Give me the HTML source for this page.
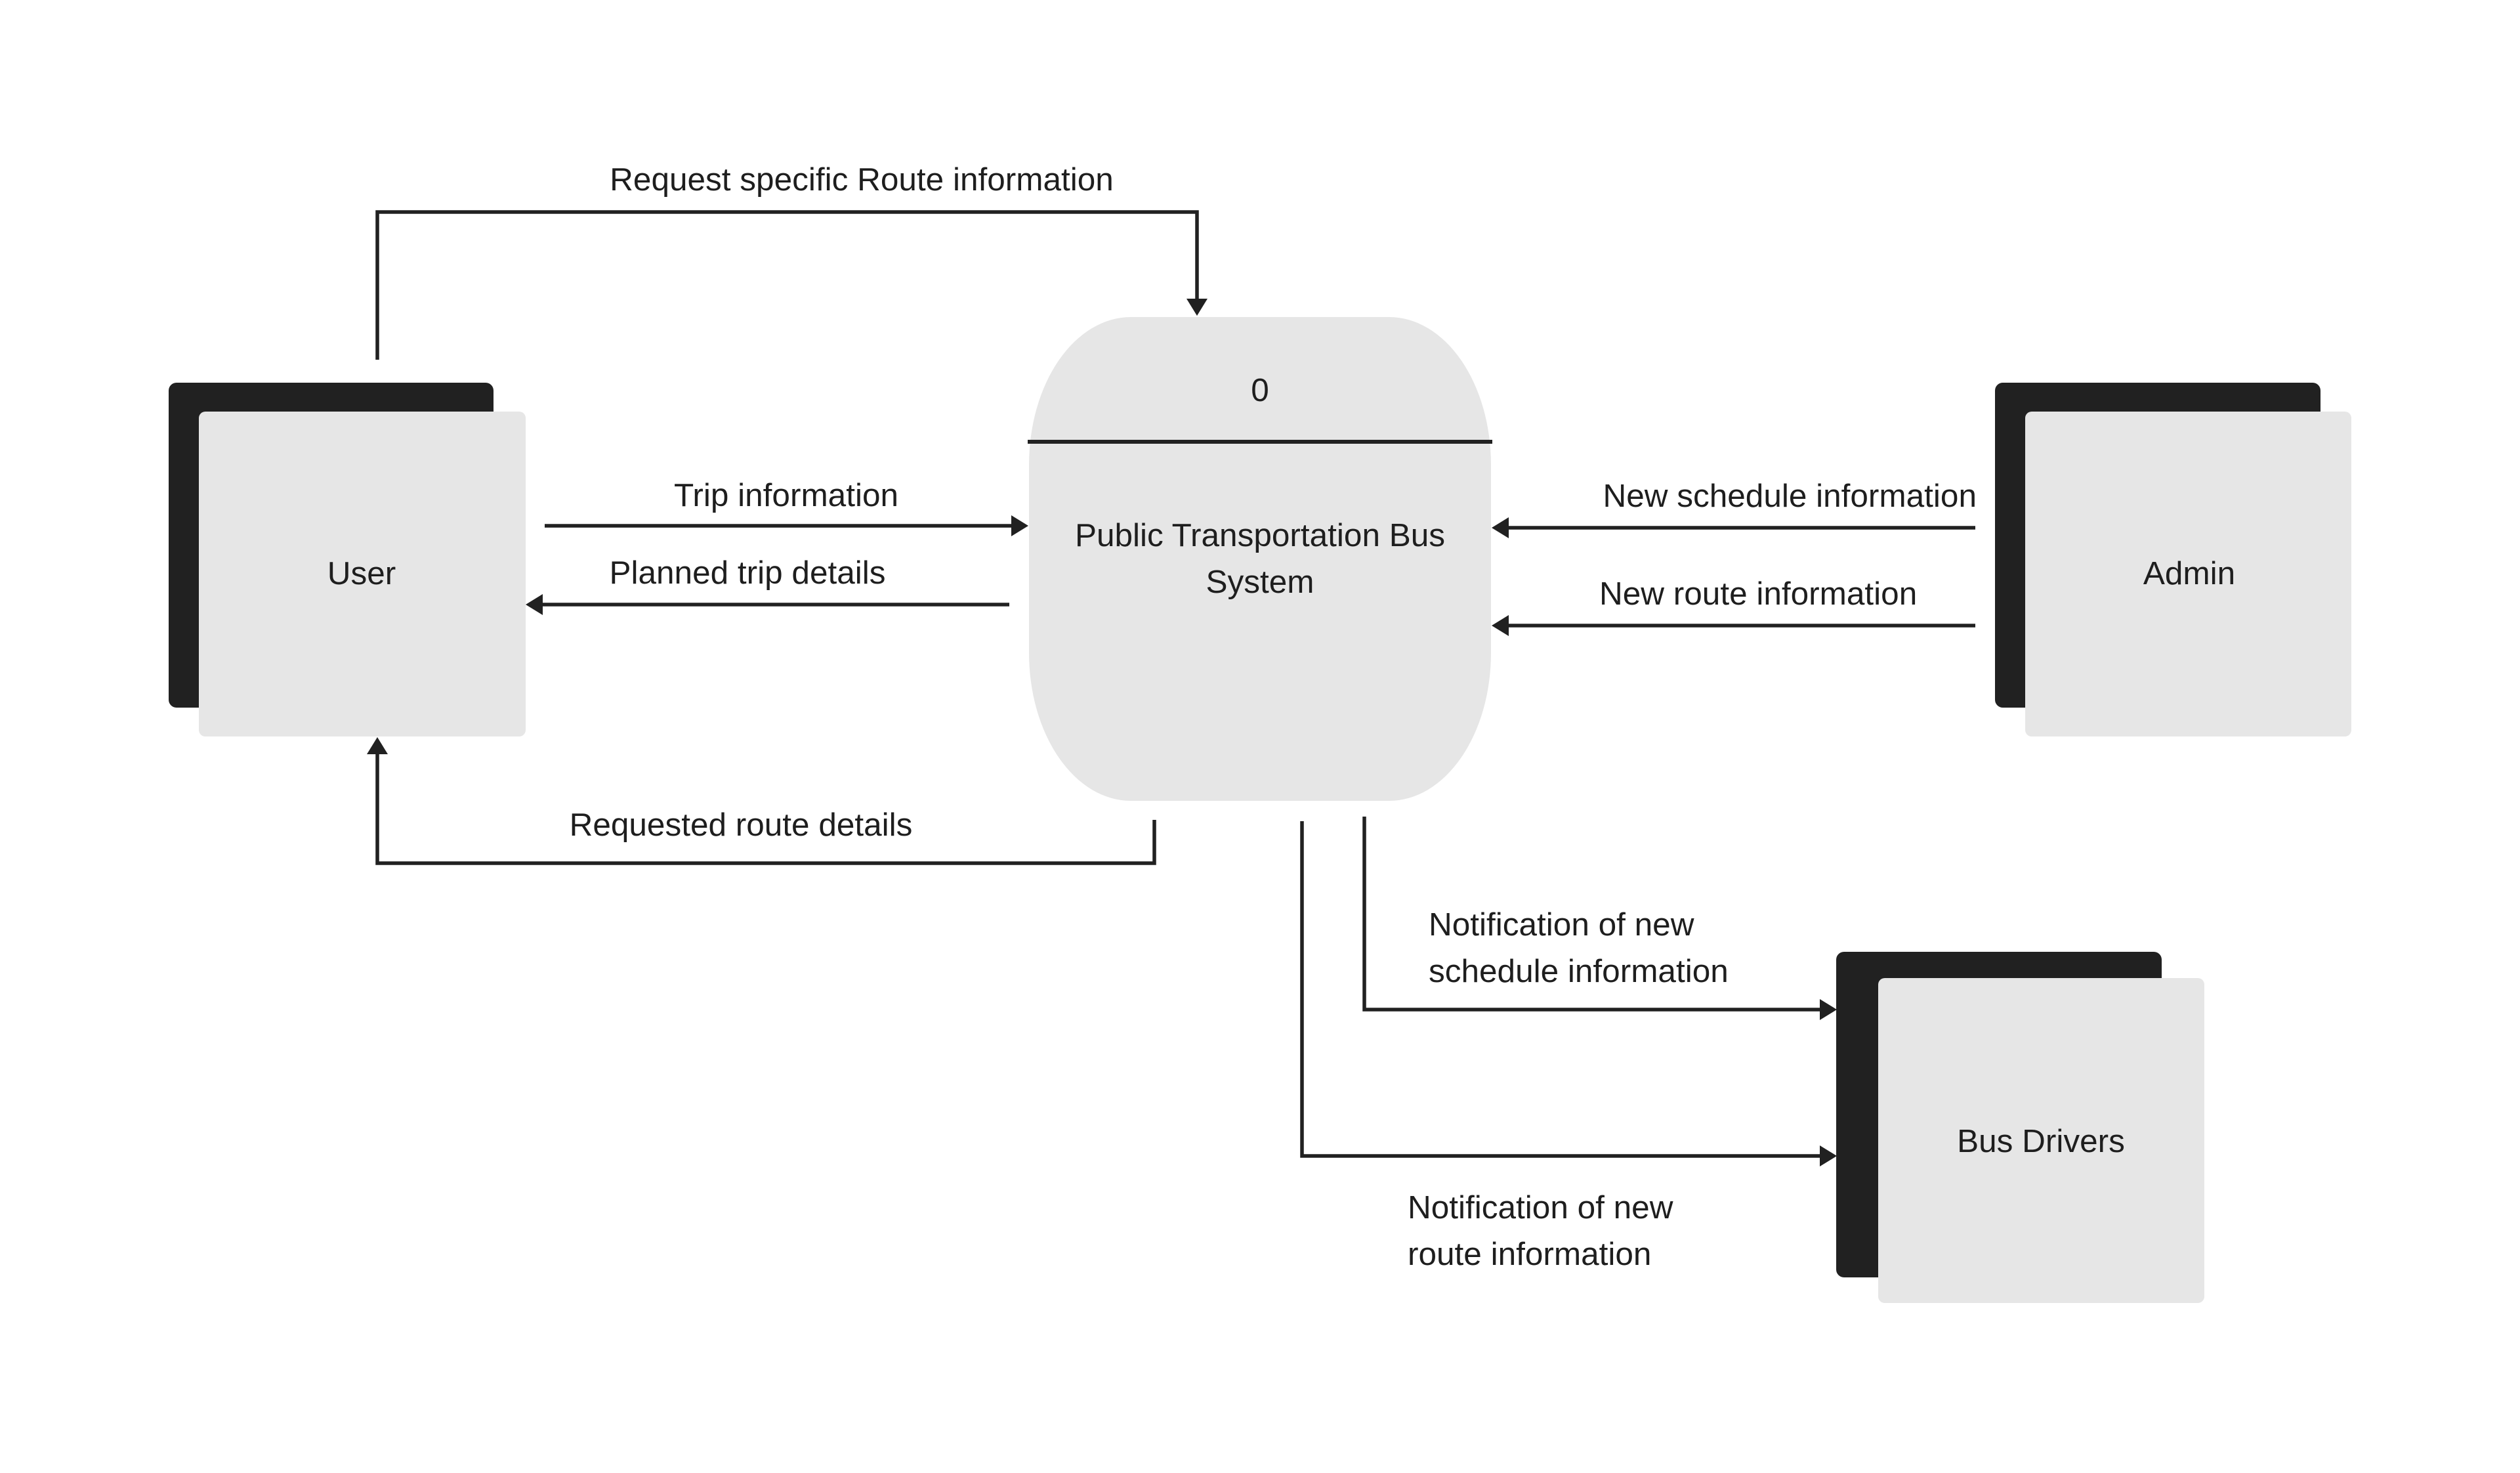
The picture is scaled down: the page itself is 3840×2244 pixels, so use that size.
<!DOCTYPE html>
<html><head><meta charset="utf-8"><style>
html,body{margin:0;padding:0;background:#fff;}
svg{display:block;}
text{font-family:"Liberation Sans",sans-serif;font-size:49.5px;fill:#1e1e1e;}
</style></head><body>
<svg width="3840" height="2244" viewBox="0 0 3840 2244" xmlns="http://www.w3.org/2000/svg">
<rect width="3840" height="2244" fill="#fff"/>
<rect x="257" y="583" width="495" height="495" rx="12" fill="#212121"/>
<rect x="303" y="627" width="498" height="495" rx="10" fill="#e6e6e6"/>
<text x="551" y="890" text-anchor="middle" fill="#333">User</text>
<rect x="3040" y="583" width="496" height="495" rx="12" fill="#212121"/>
<rect x="3086" y="627" width="497" height="495" rx="10" fill="#e6e6e6"/>
<text x="3336" y="890" text-anchor="middle" fill="#333">Admin</text>
<rect x="2798" y="1450" width="496" height="496" rx="12" fill="#212121"/>
<rect x="2862" y="1490" width="497" height="495" rx="10" fill="#e6e6e6"/>
<text x="3110" y="1755" text-anchor="middle" fill="#333">Bus Drivers</text>
<rect x="1568" y="483" width="704" height="737" rx="155" ry="225" fill="#e6e6e6"/>
<line x1="1566" y1="673" x2="2274" y2="673" stroke="#212121" stroke-width="6"/>
<text x="1920" y="611" text-anchor="middle" fill="#333">0</text>
<text x="1920" y="832" text-anchor="middle" fill="#333">Public Transportation Bus</text>
<text x="1920" y="903" text-anchor="middle" fill="#333">System</text>
<g stroke="#212121" stroke-width="5.5" fill="none" stroke-linejoin="miter">
<polyline points="575,548 575,323 1824,323 1824,458"/>
<line x1="830" y1="801" x2="1545" y2="801"/>
<line x1="1538" y1="921" x2="825" y2="921"/>
<polyline points="1759,1249 1759,1315 575,1315 575,1146"/>
<line x1="3010" y1="804" x2="2296" y2="804"/>
<line x1="3010" y1="953" x2="2296" y2="953"/>
<polyline points="2079,1244 2079,1538 2776,1538"/>
<polyline points="1984,1251 1984,1761 2776,1761"/>
</g>
<g fill="#212121">
<polygon points="1808,455 1840,455 1824,481"/>
<polygon points="1541,785 1541,817 1567,801"/>
<polygon points="827,905 827,937 801,921"/>
<polygon points="559,1149 591,1149 575,1123"/>
<polygon points="2299,788 2299,820 2273,804"/>
<polygon points="2299,937 2299,969 2273,953"/>
<polygon points="2773,1522 2773,1554 2799,1538"/>
<polygon points="2773,1745 2773,1777 2799,1761"/>
</g>
<text x="1313" y="290" text-anchor="middle">Request specific Route information</text>
<text x="1198" y="771" text-anchor="middle">Trip information</text>
<text x="1139" y="889" text-anchor="middle">Planned trip details</text>
<text x="1129" y="1273" text-anchor="middle">Requested route details</text>
<text x="3012" y="772" text-anchor="end">New schedule information</text>
<text x="2437" y="921">New route information</text>
<text x="2177" y="1425">Notification of new</text>
<text x="2177" y="1496">schedule information</text>
<text x="2145" y="1856">Notification of new</text>
<text x="2145" y="1927">route information</text>
</svg>
</body></html>
